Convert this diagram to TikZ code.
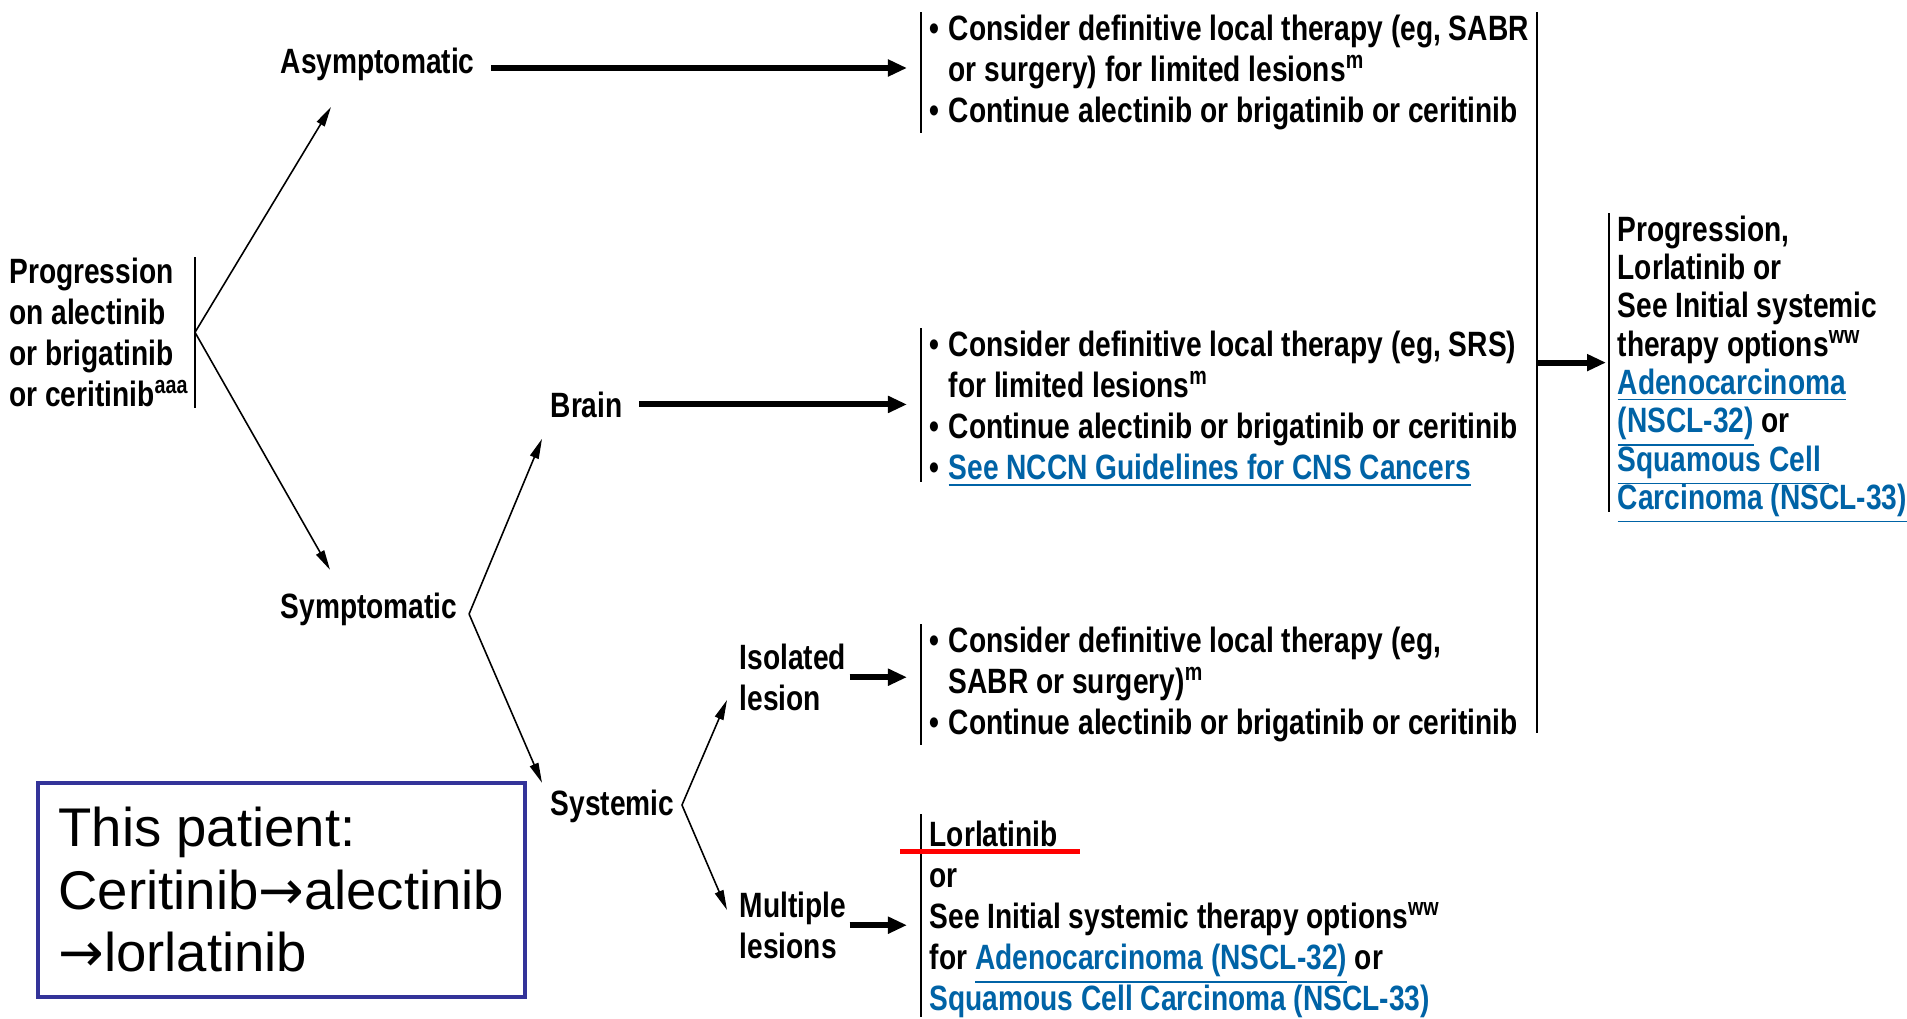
\documentclass[tikz,border=0pt]{standalone}
\usepackage{fontspec}
\setmainfont{Liberation Sans}[FakeStretch=0.8]
\newfontfamily\notefont{Liberation Sans}
\newfontfamily\arrowfont{DejaVu Sans}
\usetikzlibrary{arrows.meta}
\definecolor{linkblue}{RGB}{0,99,166}
\definecolor{noteblue}{RGB}{51,51,153}
\newcommand{\lnk}[1]{\textcolor{linkblue}{\raisebox{0pt}[\height][0pt]{\underline{#1}}}}
\newcommand{\bl}{\makebox[0.19cm][l]{\textbullet}}
\newcommand{\ind}{\hspace*{0.19cm}}
\newcommand{\thento}{{\arrowfont →}}
\begin{document}
\begin{tikzpicture}[x=0.01cm, y=-0.01cm,
        every node/.style={inner sep=0pt, align=left, font=\fontsize{10}{11.7}\selectfont\bfseries},
        opt/.style={anchor=north west, inner xsep=0.08cm, inner ysep=0.02cm},
        bar/.style={line width=0.6pt},
        fork/.style={-{Triangle[length=0.2cm,width=0.09cm]}, line width=0.45pt},
        go/.style={-{Triangle[length=0.19cm,width=0.16cm]}, line width=1.7pt, shorten <=0.16cm, shorten >=0.14cm}]
    \useasboundingbox (0,0) rectangle (1907,1018);

    \node[anchor=north east, inner xsep=0.05cm] (prog) at (195,257)
        {Progression\\on alectinib\\or brigatinib\\or ceritinib\textsuperscript{aaa}};
    \node[anchor=base west] (asym) at (280,73) {Asymptomatic};
    \node[anchor=base west] (symp) at (280,618) {Symptomatic};
    \node[anchor=base west] (brain) at (550,417) {Brain};
    \node[anchor=base west] (syst) at (550,815) {Systemic};
    \node[anchor=north west] (iso) at (739,643) {Isolated\\lesion};
    \node[anchor=north west] (multi) at (739,891) {Multiple\\lesions};

    \node[opt] (asymtx) at (921,12)
        {\bl Consider definitive local therapy (eg, SABR\\\ind or surgery) for limited lesions\textsuperscript{m}\\\bl Continue alectinib or brigatinib or ceritinib};
    \node[opt] (braintx) at (921,328)
        {\bl Consider definitive local therapy (eg, SRS)\\\ind for limited lesions\textsuperscript{m}\\\bl Continue alectinib or brigatinib or ceritinib\\\bl\lnk{See NCCN Guidelines for CNS Cancers}};
    \node[opt] (isotx) at (921,624)
        {\bl Consider definitive local therapy (eg,\\\ind SABR or surgery)\textsuperscript{m}\\\bl Continue alectinib or brigatinib or ceritinib};
    \node[opt, inner ysep=0.06cm] (multitx) at (921,814)
        {Lorlatinib\\or\\See Initial systemic therapy options\textsuperscript{ww}\\for \lnk{Adenocarcinoma (NSCL-32)} or\\\lnk{Squamous Cell Carcinoma (NSCL-33)}};
    \node[opt, font=\fontsize{10}{10.9}\selectfont\bfseries] (progtx) at (1609,213)
        {Progression,\\Lorlatinib or\\See Initial systemic\\therapy options\textsuperscript{ww}\\\lnk{Adenocarcinoma}\\\lnk{(NSCL-32)} or\\\lnk{Squamous Cell }\\\lnk{Carcinoma (NSCL-33)}};

    \node[draw=noteblue, line width=1pt, anchor=north west, minimum width=4.87cm, minimum height=2.14cm,
          font=\notefont\fontsize{15.5}{17.8}\selectfont] (note) at (36,781)
        {This patient:\\Ceritinib\thento alectinib\\\thento lorlatinib};

    \foreach \b in {asymtx,braintx,isotx,multitx,progtx}
        \draw[bar] (\b.north west) -- (\b.south west);
    \draw[bar] (prog.north east) -- (prog.south east);

    \coordinate (jtop) at (1537,12);
    \coordinate (jbot) at (1537,733);
    \draw[line width=0.8pt] (jtop) -- (jbot);

    \coordinate (sympfork) at ([shift={(11,-4)}]symp.base east);
    \coordinate (systfork) at ([shift={(7,-10)}]syst.base east);

    \draw[fork] (prog.east) -- ([shift={(51,26)}]asym.south west);
    \draw[fork] (prog.east) -- ([shift={(50,-22)}]symp.north west);
    \draw[fork] (sympfork) -- ([shift={(-8,48)}]brain.north west);
    \draw[fork] (sympfork) -- ([shift={(-8,-6)}]syst.north west);
    \draw[fork] (systfork) -- ([shift={(-12,57)}]iso.north west);
    \draw[fork] (systfork) -- ([shift={(-12,19)}]multi.north west);

    \draw[go] ([yshift=0.05cm]asym.base east) -- ([yshift=0.05cm]asym.base east -| asymtx.west);
    \draw[go] (brain.east) -- (brain.east -| braintx.west);
    \draw[go, shorten <=0.03cm] (iso.east) -- (iso.east -| isotx.west);
    \draw[go, shorten <=0.03cm] (multi.east) -- (multi.east -| multitx.west);
    \draw[go, shorten <=0pt, shorten >=0.03cm] (progtx.west -| jtop) -- (progtx.west);

    \draw[line width=0.05cm, red] ([shift={(-21,37)}]multitx.north west) -- ++(180,0);
\end{tikzpicture}
\end{document}
